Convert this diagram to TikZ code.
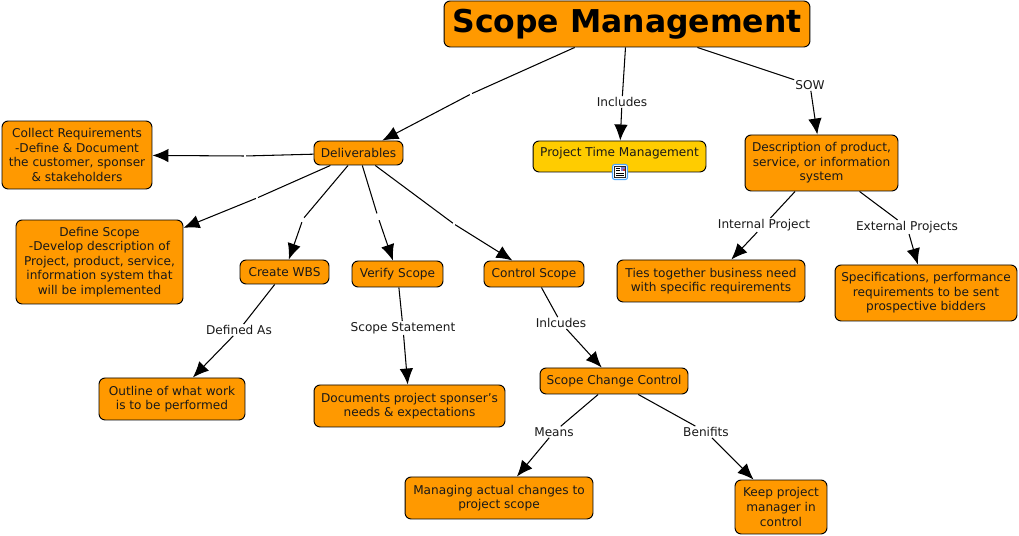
\documentclass[tikz,border=0pt]{standalone}
\usepackage{fontspec}
\setmainfont{DejaVu Sans}
\usepackage{xcolor}
\usetikzlibrary{arrows.meta}
\definecolor{conceptorange}{HTML}{FF9900}
\definecolor{conceptyellow}{HTML}{FFCC00}

\begin{document}
\begin{tikzpicture}[x=0.02cm, y=-0.02cm,
    box/.style={rectangle, draw=black, line width=0.55pt, rounded corners=3.5pt, fill=conceptorange,
                inner sep=0pt, align=center, font=\fontsize{6.9}{8.3}\selectfont, text=black!90},
    linklabel/.style={fill=white, inner sep=0.5pt, font=\fontsize{6.9}{8.3}\selectfont, text=black!90},
    tick/.style={fill=white, inner sep=0pt, minimum width=0.03cm, minimum height=0.24cm},
    arrow/.style={-{Latex[length=3.2mm, width=2.7mm]}, semithick}]
  \useasboundingbox (0,0) rectangle (1019,536);
  \node[box, minimum width=7.32cm, minimum height=0.92cm, font=\bfseries\fontsize{17.9}{20}\selectfont, text=black] (scope) at (627,24) {Scope Management};
  \node[box] (deliv) at (358.5,153) [minimum width=1.78cm, minimum height=0.48cm] {Deliverables};
  \node[box, fill=conceptyellow, minimum width=3.46cm, minimum height=0.62cm] (time) at (619.5,156.5)
        {\smash{Project Time Management}};
  \node[box, minimum width=3.06cm, minimum height=1.12cm] (descr) at (821.5,163)
        {Description of product,\\service, or information\\system};
  \node[box, minimum width=3.0cm, minimum height=1.36cm] (collect) at (77,155)
        {Collect Requirements\\-Define \& Document\\the customer, sponser\\\& stakeholders};
  \node[box, minimum width=3.34cm, minimum height=1.68cm] (define) at (99.5,262)
        {Define Scope\\-Develop description of\\Project, product, service,\\information system that\\will be implemented};
  \node[box, minimum width=1.78cm, minimum height=0.48cm] (wbs) at (284.5,272) {Create WBS};
  \node[box, minimum width=1.82cm, minimum height=0.52cm] (verify) at (397.5,274) {Verify Scope};
  \node[box, minimum width=2.0cm, minimum height=0.52cm] (control) at (534,274) {Control Scope};
  \node[box, minimum width=3.76cm, minimum height=0.84cm] (ties) at (711,281)
        {Ties together business need\\with specific requirements};
  \node[box, minimum width=3.64cm, minimum height=1.12cm] (specs) at (926,293)
        {Specifications, performance\\requirements to be sent\\prospective bidders};
  \node[box, minimum width=2.92cm, minimum height=0.84cm] (outline) at (172,399)
        {Outline of what work\\is to be performed};
  \node[box, minimum width=3.82cm, minimum height=0.84cm] (docs) at (409.5,406)
        {Documents project sponser's\\needs \& expectations};
  \node[box, minimum width=2.96cm, minimum height=0.52cm] (change) at (614,381) {Scope Change Control};
  \node[box, minimum width=3.76cm, minimum height=0.84cm] (managing) at (499,498)
        {Managing actual changes to\\project scope};
  \node[box, minimum width=1.84cm, minimum height=1.08cm] (keep) at (781,507)
        {Keep project\\manager in\\control};
  % link labels
  \node[tick] (l1) at (471,94) {};
  \node[linklabel] (l2) at (622,102) {Includes};
  \node[linklabel] (l3) at (810,85) {SOW};
  \node[tick] (l4) at (245,156) {};
  \node[tick] (l5) at (257,198) {};
  \node[tick] (l6) at (303,219) {};
  \node[tick] (l7) at (378,217) {};
  \node[tick] (l8) at (454,224) {};
  \node[linklabel] (l9) at (239,330) {Defined As};
  \node[linklabel] (l10) at (403,328) {Scope Statement};
  \node[linklabel] (l11) at (561,323) {Inlcudes};
  \node[linklabel] (l12) at (554,432) {Means};
  \node[linklabel] (l13) at (706,432) {Benifits};
  \node[linklabel] (l14) at (764,225) {Internal Project};
  \node[linklabel] (l15) at (907,227) {External Projects};
  % connectors
  \draw[arrow] (scope) -- (l1) -- (deliv);
  \draw[arrow] (scope) -- (l2) -- (time);
  \draw[arrow] (scope) -- (l3) -- (descr);
  \draw[arrow] (deliv) -- (l4) -- (collect);
  \draw[arrow] (deliv) -- (l5) -- (define);
  \draw[arrow] (deliv) -- (l6) -- (wbs);
  \draw[arrow] (deliv) -- (l7) -- (verify);
  \draw[arrow] (deliv) -- (l8) -- (control);
  \draw[arrow] (wbs) -- (l9) -- (outline);
  \draw[arrow] (verify) -- (l10) -- (docs);
  \draw[arrow] (control) -- (l11) -- (change);
  \draw[arrow] (change) -- (l12) -- (managing);
  \draw[arrow] (change) -- (l13) -- (keep);
  \draw[arrow] (descr) -- (l14) -- (ties);
  \draw[arrow] (descr) -- (l15) -- (specs);
  % resource icon
  \node[draw=blue!50!cyan!70, fill=white, rounded corners=1.2pt, line width=0.6pt, minimum size=0.3cm, inner sep=0pt] (icon) at (620,172) {};
  \draw[black!85, line width=0.55pt] (614.5,166.5) rectangle (625.5,177.5);
  \fill[blue!50!gray!70] (620.5,167.5) rectangle (624.5,171.5);
  \fill[red!60!gray] (622.5,169.5) rectangle (624.5,171.5);
  \foreach \y in {168.5,170.5} \draw[black, line width=0.4pt] (616,\y) -- (620,\y);
  \foreach \y in {173,175} \draw[black, line width=0.4pt] (616,\y) -- (624,\y);
\end{tikzpicture}
\end{document}
